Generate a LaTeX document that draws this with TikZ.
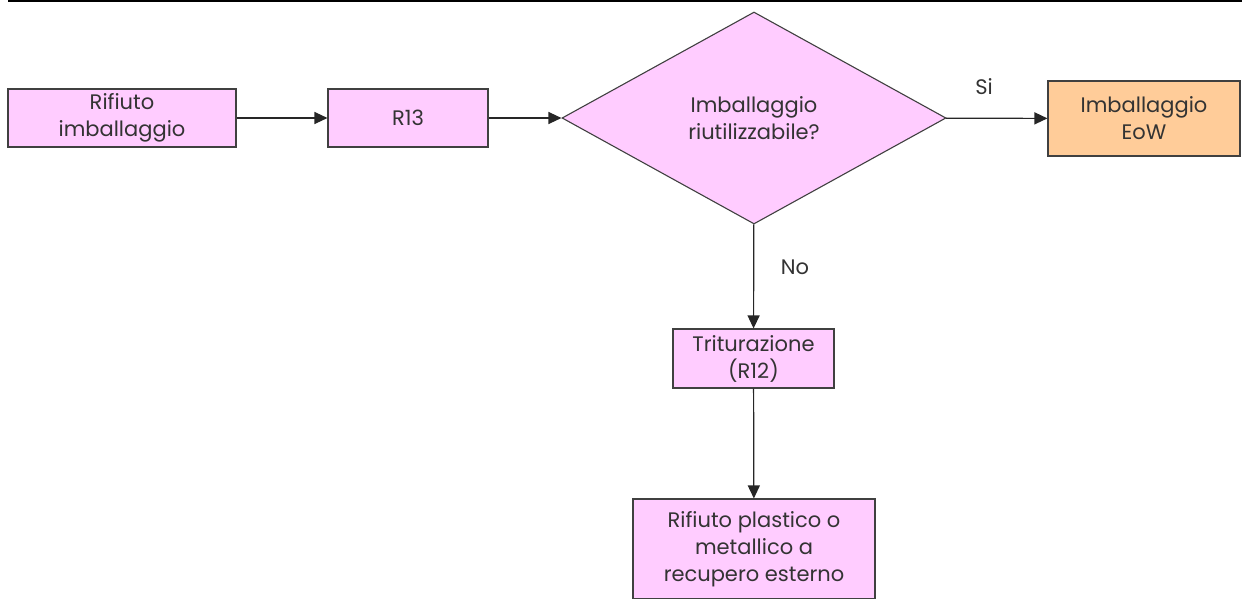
\documentclass[tikz,border=0pt]{standalone}
\usepackage{fontspec}
\setmainfont{Poppins}
\usetikzlibrary{shapes.geometric,arrows.meta}
\definecolor{pinkfill}{HTML}{FFCCFF}
\definecolor{orangefill}{HTML}{FFCC99}
\definecolor{edgegray}{HTML}{404040}
\definecolor{txtgray}{HTML}{333333}
\begin{document}
\begin{tikzpicture}[x=1pt,y=-1pt,
  every node/.style={font=\fontsize{21}{27}\selectfont, text=txtgray},
  procbox/.style={draw=edgegray, line width=1.1pt, fill=pinkfill, align=center, inner sep=0pt},
  outbox/.style={procbox, fill=orangefill},
  decision/.style={shape=diamond, draw=edgegray, line width=1.1pt, fill=pinkfill, align=center, inner sep=0pt},
  flow/.style={draw=black!85, line width=1.2pt, -{Triangle[length=13pt,width=12pt]}},
  lbl/.style={inner sep=0pt}]
\useasboundingbox (0,0) rectangle (1242,598);
\clip (0,0) rectangle (1242,598);
\draw[line width=2pt] (8,1) -- (1242,1);
\node[procbox, minimum width=228pt, minimum height=58pt] (b1) at (122,118) {Rifiuto\\imballaggio};
\node[procbox, minimum width=160pt, minimum height=58pt] (r13) at (408,118) {R13};
\node[decision, minimum width=384pt, minimum height=212pt] (dec) at (754,118) {Imballaggio\\riutilizzabile?};
\node[outbox, minimum width=192pt, minimum height=75pt] (eow) at (1144,118.5) {Imballaggio\\EoW};
\node[procbox, minimum width=161pt, minimum height=59pt] (trit) at (753.5,358.5) {Triturazione\\(R12)};
\node[procbox, minimum width=242pt, minimum height=100pt] (rec) at (754,549) {Rifiuto plastico o\\metallico a\\recupero esterno};
\node[lbl] (si) at (984,87) {Si};
\node[lbl] (no) at (795,267) {No};
\draw[flow] (b1) -- (r13);
\draw[flow] (r13) -- (dec);
\draw[flow] (dec) -- (eow);
\draw[flow] (dec) -- (trit);
\draw[flow] (trit) -- (rec);
\end{tikzpicture}
\end{document}
